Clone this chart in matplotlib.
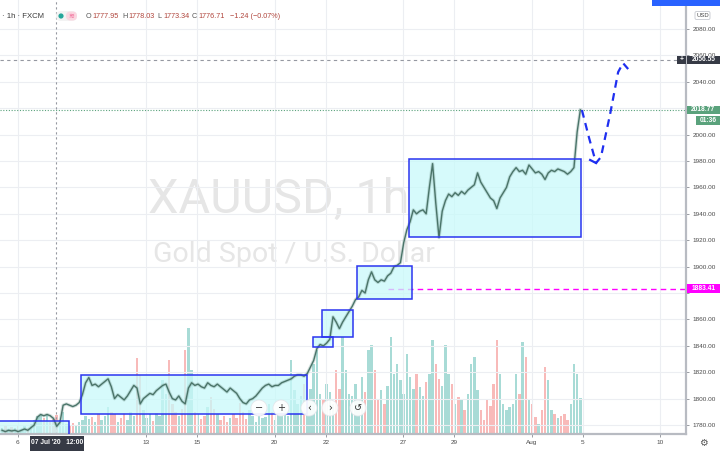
import numpy as np
import matplotlib.pyplot as plt
import matplotlib.transforms as mtransforms
from matplotlib.patches import Rectangle, Circle, FancyBboxPatch

# XAUUSD 1h (FXCM), closes sampled every 3 hours, starting Fri Jul 3
# x axis counts trading days, 0 = Mon Jul 6
start_day = -0.6
step = 0.125

closes = [
    1776, 1775, 1776, 1775.5, 1776, 1775, 1776, 1777, 1776, 1778,
    1780, 1786, 1788, 1787, 1788, 1787, 1785, 1779, 1782, 1795,
    1796, 1795, 1794, 1795, 1797, 1803, 1812, 1816, 1810, 1811,
    1809, 1811, 1813, 1815, 1809, 1800, 1803, 1801, 1799, 1802,
    1806, 1810, 1808, 1796, 1800, 1802, 1804, 1803, 1806, 1808,
    1810, 1811, 1805, 1800, 1799, 1802, 1798, 1796, 1808, 1812,
    1810, 1811, 1809, 1808, 1812, 1810, 1809, 1811, 1809, 1807,
    1805, 1808, 1806, 1804, 1800, 1797, 1796, 1799, 1800, 1802,
    1805, 1808, 1810, 1811, 1809, 1810, 1810, 1812, 1813, 1814,
    1815, 1817, 1818, 1818, 1817, 1819, 1824, 1829, 1838, 1841,
    1840, 1842, 1845, 1862, 1858, 1853, 1858, 1862, 1866, 1870,
    1875, 1877, 1882, 1880, 1890, 1896, 1890, 1888, 1890, 1889,
    1893, 1895, 1900, 1901, 1903, 1918, 1928, 1934, 1943, 1940,
    1942, 1943, 1940, 1960, 1978, 1948, 1922, 1942, 1950, 1955,
    1953, 1956, 1954, 1957, 1955, 1958, 1960, 1962, 1971, 1964,
    1960, 1956, 1952, 1950, 1944, 1952, 1956, 1960, 1968, 1972,
    1975, 1972, 1973, 1970, 1977, 1974, 1971, 1972, 1970, 1966,
    1971, 1973, 1972, 1974, 1973, 1972, 1970, 1972, 1975, 2002,
    2018.77,
]

volumes = [
    6, 8, 5, 7, 6, 9, 5, 8, 6, 10,
    14, 18, 19, 16, 19, 12, 15, 19, 14, 22,
    10, 8, 11, 9, 12, 14, 18, 15, 17, 12,
    20, 14, 18, 27, 22, 20, 12, 16, 21, 14,
    22, 18, 76, 59, 24, 16, 20, 13, 21, 18,
    54, 40, 74, 30, 22, 18, 25, 84, 106, 64,
    22, 20, 15, 18, 27, 37, 25, 20, 14, 18,
    12, 16, 20, 16, 31, 22, 15, 24, 18, 12,
    20, 16, 17, 30, 22, 14, 25, 20, 28, 18,
    74, 44, 30, 38, 50, 35, 45, 70, 84, 40,
    35, 50, 42, 30, 64, 45, 97, 64, 40, 38,
    50, 35, 57, 42, 84, 89, 64, 35, 44, 30,
    48, 97, 60, 70, 54, 40, 80, 57, 45, 60,
    47, 38, 52, 60, 94, 70, 55, 48, 89, 60,
    50, 30, 37, 34, 24, 40, 70, 77, 44, 24,
    14, 34, 28, 50, 94, 60, 30, 24, 27, 30,
    60, 40, 92, 77, 34, 30, 17, 10, 24, 67,
    54, 24, 20, 16, 18, 20, 14, 30, 70, 60,
    36,
]

tick_days = [0, 5, 7, 10, 12, 15, 17, 20, 22, 25]
tick_labels = ['6', '13', '15', '20', '22', '27', '29', 'Aug', '5', '10']
price_ticks = list(range(1780, 2081, 20))
hidden_ticks = [2020, 1880]  # sit under the price tags

# consolidation boxes: (first day, last day, low, high)
boxes = [
    (-1.0, 2.0, 1765, 1783),
    (2.47, 11.25, 1788, 1818),
    (11.50, 12.28, 1839, 1846.7),
    (11.85, 13.05, 1846.7, 1867),
    (13.21, 15.35, 1875.5, 1900.5),
    (15.23, 21.93, 1922.4, 1981.5),
]

# hand-drawn projection
proj_days = [21.96, 22.24, 22.51, 22.70, 23.05, 23.37, 23.56, 23.76]
proj_prices = [2018.6, 1997.4, 1978.5, 1983.0, 2014.8, 2047.4, 2054.2, 2049.7]
hook_days = [22.28, 22.51]
hook_prices = [1980.8, 1978.5]

target_level = 2056.55
last_price = 2018.77
support_level = 1883.41
support_from = 14.42
crosshair_day = 1.5

W, H = 720, 453
plt.rcParams['font.family'] = ['Liberation Sans', 'DejaVu Sans']

fig = plt.figure(figsize=(W / 100, H / 100), dpi=100)
rect = [0, 19 / H, 686 / W, 434 / H]

# volume pane underneath
axv = fig.add_axes(rect)
axv.set_xlim(-0.681, 26.01)
axv.set_ylim(0, max(volumes) * 4.1)
axv.axis('off')
days = start_day + np.arange(len(closes)) * step
up = np.r_[True, np.diff(closes) >= 0]
vcol = np.where(up, '#26a69a', '#ef5350')
axv.bar(days, volumes, width=0.095, color=vcol, alpha=0.4, linewidth=0)

ax = fig.add_axes(rect)
ax.set_facecolor('none')
ax.set_xlim(-0.681, 26.01)
ax.set_ylim(1773.2, 2102.0)
ax.grid(color='#eceef2', lw=0.8)
ax.set_axisbelow(True)

for sp in ['top', 'left']:
    ax.spines[sp].set_visible(False)
for sp in ['right', 'bottom']:
    ax.spines[sp].set_color('#b8bbc2')
    ax.spines[sp].set_linewidth(1.6)

ax.yaxis.tick_right()
ax.set_yticks(price_ticks)
ax.set_yticklabels(['' if p in hidden_ticks else '%.2f' % p for p in price_ticks])
ax.set_xticks(tick_days)
ax.set_xticklabels(tick_labels)
ax.tick_params(labelsize=4.6, colors='#4a4a4a', length=2.5, width=0.6, pad=2)
ax.tick_params(axis='both', color='#8a8d94')

# watermark
ax.text(148 / 686, (434 - 213) / 434, 'XAUUSD, 1h', transform=ax.transAxes,
        fontsize=35, color='#e6e6e6', family='Roboto', va='baseline', zorder=0)
ax.text(153 / 686, (434 - 262) / 434, 'Gold Spot / U.S. Dollar', transform=ax.transAxes,
        fontsize=20.5, color='#e6e6e6', family='Roboto', va='baseline', zorder=0)

# levels
ax.axhline(target_level, color='#9598a1', lw=0.8, ls=(0, (3, 3)), zorder=1)
ax.axhline(last_price, color='#5aa27c', lw=0.8, ls=(0, (1, 1.5)), zorder=1)
ax.plot([support_from, 26.01], [support_level] * 2, color='#ff00ff', lw=1.0,
        ls=(0, (4, 3)), zorder=1)
ax.axvline(crosshair_day, color='#9598a1', lw=0.8, ls=(0, (2, 2.5)), zorder=1)

for d0, d1, lo, hi in boxes:
    ax.add_patch(Rectangle((d0, lo), d1 - d0, hi - lo, facecolor='#c9f9fa',
                           alpha=0.75, edgecolor='none', zorder=2))
    ax.add_patch(Rectangle((d0, lo), d1 - d0, hi - lo, facecolor='none',
                           edgecolor='#2b35f0', lw=1.1, zorder=4))

# price: soft wick band plus the close line
ax.plot(days, closes, color='#7fa39a', lw=2.4, alpha=0.35, zorder=3)
ax.plot(days, closes, color='#4a7469', lw=1.0, zorder=3)

ax.plot(proj_days, proj_prices, color='#1f2ff0', lw=1.6, ls=(0, (3.5, 2.5)), zorder=5)
ax.plot(hook_days, hook_prices, color='#1f2ff0', lw=1.6, zorder=5)

# price tags on the scale
def tag(price, text, fc, x0=686.5, x1=720, dy=0):
    yd = ax.transData.transform((0, price))[1] + dy
    fig.patches.append(Rectangle((x0, yd - 4.3), x1 - x0, 8.6, facecolor=fc,
                                 edgecolor='none', transform=None, zorder=10))
    fig.text((x0 + x1) / 2 / W, yd / H, text, ha='center', va='center',
             fontsize=4.8, color='white', fontweight='bold', zorder=11)

tag(target_level, '2056.55', '#363a45')
tag(target_level, '+', '#363a45', x0=676.5, x1=686.3)
tag(last_price, '2018.77', '#5aa27c')
tag(last_price, '01:36', '#5aa27c', x0=696, dy=-10.5)
tag(support_level, '1883.41', '#ff00ff')

# bottom crosshair label
fig.patches.append(Rectangle((30, H - 451), 54, 15, facecolor='#363a45',
                             edgecolor='none', transform=None, zorder=10))
fig.text(57 / W, 1 - 443 / H, "07 Jul '20   12:00", ha='center', va='center',
         fontsize=4.8, color='white', fontweight='bold', zorder=11)

# header
fig.text(2 / W, 1 - 16 / H, '· 1h · FXCM', ha='left', va='center',
         fontsize=5.6, color='#3a3a3a')
fig.patches.append(FancyBboxPatch((56, H - 21), 21, 10, boxstyle='round,pad=0,rounding_size=5',
                                  facecolor='#f3f3f3', edgecolor='none', transform=None))
fig.patches.append(FancyBboxPatch((66, H - 20.5), 11, 9, boxstyle='round,pad=0,rounding_size=4.5',
                                  facecolor='#fbd7e1', edgecolor='none', transform=None))
fig.patches.append(Circle((61, H - 16), 2.6, facecolor='#26a69a', edgecolor='none', transform=None))
fig.text(71.5 / W, 1 - 16 / H, '≋', ha='center', va='center', fontsize=5,
         color='#f06292', family='DejaVu Sans')

ohlc = [(86, 'O', '1777.95'), (122, 'H', '1778.03'), (157, 'L', '1773.34'), (192, 'C', '1776.71')]
for x, k, v in ohlc:
    fig.text(x / W, 1 - 16 / H, k, ha='left', va='center', fontsize=5.2, color='#555555')
    fig.text((x + 6.5) / W, 1 - 16 / H, v, ha='left', va='center', fontsize=5.2, color='#b0453c')
fig.text(230 / W, 1 - 16 / H, '\u22121.24 (\u22120.07%)', ha='left', va='center',
         fontsize=5.2, color='#b0453c')

# currency badge and toolbar corner
fig.patches.append(FancyBboxPatch((695, H - 19.5), 15, 8, boxstyle='round,pad=0,rounding_size=1.5',
                                  facecolor='white', edgecolor='#c5c8ce', lw=0.6, transform=None))
fig.text(702.5 / W, 1 - 15.5 / H, 'USD', ha='center', va='center', fontsize=4.2, color='#444444')
fig.patches.append(Rectangle((652, H - 6), 68, 6, facecolor='#2962ff', edgecolor='none', transform=None))
fig.text(703 / W, 1 - 443 / H, '⚙', ha='center', va='center', fontsize=7,
         color='#555555', family='DejaVu Sans')

# navigation buttons
for x, s in [(259, '\u2212'), (281, '+'), (309, '\u2039'), (330, '\u203a'), (358, '\u21ba')]:
    fig.patches.append(Circle((x, H - 408), 8, facecolor='white', edgecolor='#e3e5ea',
                              lw=0.6, alpha=0.92, transform=None, zorder=12))
    fig.text(x / W, 1 - 408 / H, s, ha='center', va='center', fontsize=7,
             color='#333333', family='DejaVu Sans', zorder=13)

fig.savefig('out.png', dpi=100)
